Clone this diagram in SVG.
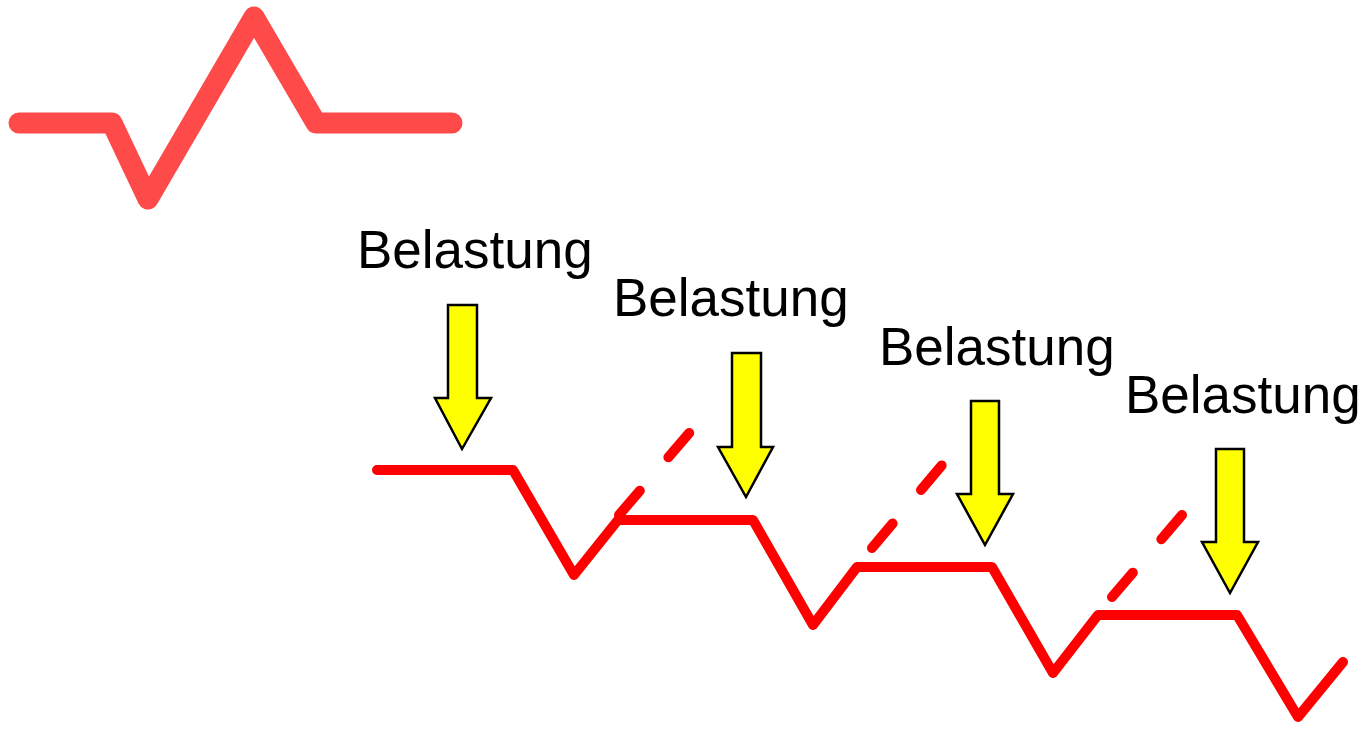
<svg xmlns="http://www.w3.org/2000/svg" width="1364" height="729" viewBox="0 0 1364 729">
<style>
.lbl{font-family:"Liberation Sans",Arial,sans-serif;font-size:53px;fill:#000}
.ln{fill:none;stroke:#FF0000;stroke-width:10;stroke-linecap:round;stroke-linejoin:round}
.dash{fill:none;stroke:#FF0000;stroke-width:10;stroke-linecap:round;stroke-dasharray:32 44}
.arr{fill:#FFFF00;stroke:#000;stroke-width:2.5;stroke-linejoin:miter}
</style>
<rect width="1364" height="729" fill="#fff"/>
<g id="icon">
<polyline points="19,123 112,123 148,199 254,17 316,123 452,123" fill="none" stroke="#FF4A4A" stroke-width="21" stroke-linecap="round" stroke-linejoin="round"/>
</g>
<g id="connectors">
<polyline class="ln" points="377,470 513,470 574,575 618,520 753,520 813,625 857,567 992,567 1053,673 1098,615 1237,615 1298,717 1343,662"/>
<path class="dash" d="M619,515 L690,432"/>
<path class="dash" d="M872,548 L942,465"/>
<path class="dash" d="M1112,597 L1182,515"/>
</g>
<g id="node1">
<text class="lbl" x="357" y="268">Belastung</text>
<polygon class="arr" points="448,305 477,305 477,398 491,398 462,449 435,398 448,398"/>
</g>
<g id="node2">
<text class="lbl" x="613" y="316">Belastung</text>
<polygon class="arr" points="732,353 761,353 761,447 773,447 746,497 718,447 732,447"/>
</g>
<g id="node3">
<text class="lbl" x="879" y="365">Belastung</text>
<polygon class="arr" points="971,401 999,401 999,494 1013,494 985,545 957,494 971,494"/>
</g>
<g id="node4">
<text class="lbl" x="1125" y="413">Belastung</text>
<polygon class="arr" points="1216,449 1244,449 1244,542 1258,542 1230,593 1202,542 1216,542"/>
</g>
</svg>
